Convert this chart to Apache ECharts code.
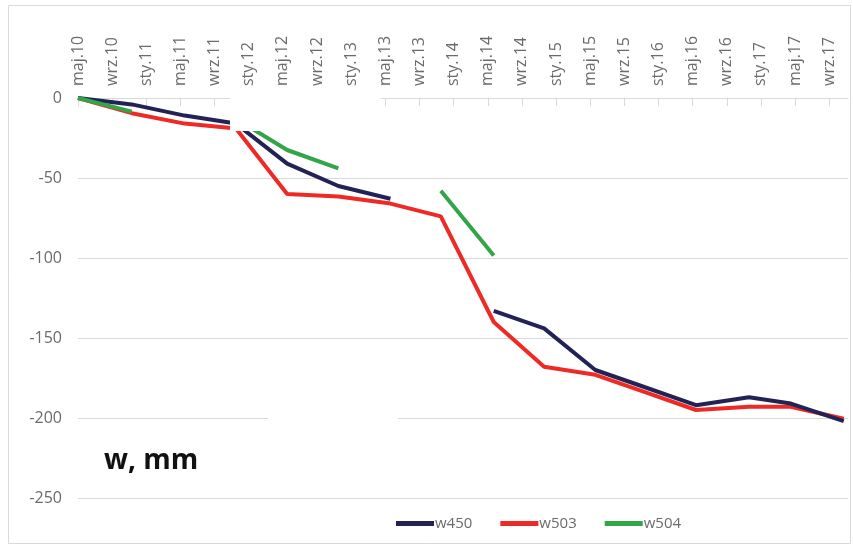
<!DOCTYPE html>
<html>
<head>
<meta charset="utf-8">
<script src="https://cdn.jsdelivr.net/npm/echarts@6/dist/echarts.min.js"></script>
<style>
html,body{margin:0;padding:0;background:#fff;}
#chart{width:853px;height:547px;}
</style>
</head>
<body>
<div id="chart"></div>
<script>
// Tick labels (every 4 months starting May 2010)
const tickLabels = ['maj.10','wrz.10','sty.11','maj.11','wrz.11','sty.12','maj.12','wrz.12','sty.13','maj.13','wrz.13','sty.14','maj.14','wrz.14','sty.15','maj.15','wrz.15','sty.16','maj.16','wrz.16','sty.17','maj.17','wrz.17'];
const tickStepMonths = 4;
// Measurement times, months since May 2010
const months = [0, 6.3, 12.5, 18.5, 24.5, 30.5, 36.6, 42.5, 48.7, 54.6, 60.6, 66.0, 72.4, 78.6, 83.5, 89.7];
const w450 = [0, -4, -11, -16, -41, -55, -63, null, -133, -144, -170, -180, -192, -187, -191, -202];
const w503 = [0, -9.5, -16, -19, -60, -61.5, -66, -74, -140, -168, -173, -183, -195, -193, -193, -200.5];
const w504 = [0, -8.5, null, -13, -32.5, -44, null, -58, -98.5, null, null, null, null, null, null, null];

const tickValues = tickLabels.map((_, i) => i * tickStepMonths);
const pairs = vals => months.map((m, i) => [m, vals[i]]);

const chart = echarts.init(document.getElementById('chart'));
const FONT = "'Open Sans', sans-serif";
const GRID_C = '#d9d9d9';
chart.setOption({
  animation: false,
  grid: {left: 78, right: 5, top: 98, bottom: 49},
  xAxis: {
    type: 'value', position: 'top', min: 0, max: 90.2,
    axisLine: {show: true, lineStyle: {color: GRID_C, width: 1}},
    axisTick: {show: true, inside: true, length: 8, lineStyle: {color: GRID_C}, customValues: tickValues},
    axisLabel: {
      rotate: 90, margin: 12, color: '#6b6b6b', fontFamily: FONT, fontSize: 16,
      customValues: tickValues,
      formatter: v => tickLabels[Math.round(v / tickStepMonths)] || ''
    },
    splitLine: {show: false}
  },
  yAxis: {
    type: 'value', min: -250, max: 0, interval: 50,
    axisLine: {show: false}, axisTick: {show: false},
    axisLabel: {color: '#6b6b6b', fontFamily: FONT, fontSize: 16, margin: 16},
    splitLine: {lineStyle: {color: GRID_C, width: 1.2}}
  },
  legend: {
    left: 391, top: 511, icon: 'rect', itemWidth: 38, itemHeight: 5, itemGap: 28,
    textStyle: {color: '#6b6b6b', fontFamily: FONT, fontSize: 15, padding: [0,0,0,-4]},
    data: ['w450','w503','w504']
  },
  series: [
    {name: 'w450', type: 'line', data: pairs(w450), symbol: 'none', connectNulls: false,
     lineStyle: {color: '#222255', width: 4}, itemStyle: {color: '#222255'}, z: 3},
    {name: 'w503', type: 'line', data: pairs(w503), symbol: 'none', connectNulls: false,
     lineStyle: {color: '#ee2a27', width: 4}, itemStyle: {color: '#ee2a27'}, z: 2},
    {name: 'w504', type: 'line', data: pairs(w504), symbol: 'none', connectNulls: false,
     lineStyle: {color: '#33a447', width: 4}, itemStyle: {color: '#33a447'}, z: 4}
  ],
  graphic: [
    {type: 'rect', z: 100, shape: {x: 8.5, y: 5.5, width: 842, height: 538}, style: {fill: 'none', stroke: '#d9d9d9', lineWidth: 1}},
    {type: 'rect', z: 100, shape: {x: 230, y: 90, width: 151, height: 41}, style: {fill: '#fff'}},
    {type: 'rect', z: 100, shape: {x: 268, y: 405, width: 130, height: 25}, style: {fill: '#fff'}},
    {type: 'text', z: 100, left: 104, top: 447, style: {text: 'w, mm', fill: '#111', font: "bold 28px 'Open Sans', sans-serif"}}
  ]
});
</script>
</body>
</html>
